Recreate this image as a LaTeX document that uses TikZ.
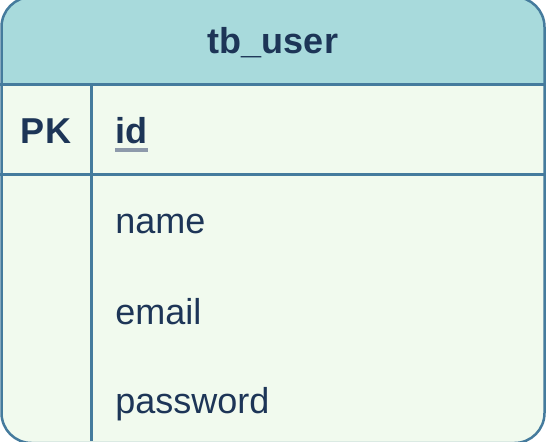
\documentclass[tikz,border=0pt]{standalone}
\usepackage{fontspec}
\setmainfont{Liberation Sans}
\definecolor{headfill}{HTML}{A8DADC}
\definecolor{bodyfill}{HTML}{F1FAEE}
\definecolor{edge}{HTML}{457B9D}
\definecolor{ink}{HTML}{1D3557}
\tikzset{
field/.style = {anchor = base west, inner sep = 0pt, text = ink, font = \fontsize{18}{20}\selectfont},
keyfield/.style = {field, font = \fontsize{18}{20}\selectfont\bfseries},
}
\begin{document}
\begin{tikzpicture}[x = 0.5pt, y = -0.5pt]
\useasboundingbox (0,0) rectangle (546,441);
\clip (0,0) rectangle (546,441);
% table body and header
\fill [bodyfill, rounded corners = 15pt] (1.5,-3) rectangle (544.5,443);
\begin{scope}
\clip [rounded corners = 15pt] (1.5,-3) rectangle (544.5,443);
\fill [headfill] (0,-3) rectangle (546,84.5);
\end{scope}
\draw [edge, line width = 1.25pt] (0,84.5) -- (546,84.5);
\draw [edge, line width = 1.25pt] (0,174.5) -- (546,174.5);
\draw [edge, line width = 1.25pt] (91.5,84.5) -- (91.5,441);
\draw [edge, line width = 1.25pt, rounded corners = 15pt] (1.5,-3) rectangle (544.5,443);
% texts
\node [keyfield, anchor = base] (title) at (273,53) {tb\_user};
\node [keyfield, anchor = base] (pk) at (46,143) {PK};
\node [keyfield] (id) at (115,143) {id};
\draw [ink!50, line width = 1.75pt] ([yshift = -3.5pt] id.base west) -- ([yshift = -3.5pt] id.base east);
\foreach \name/\y in {name/233, email/324, password/413}{
\node [field] (\name) at (115,\y) {\name};
}
\end{tikzpicture}
\end{document}
